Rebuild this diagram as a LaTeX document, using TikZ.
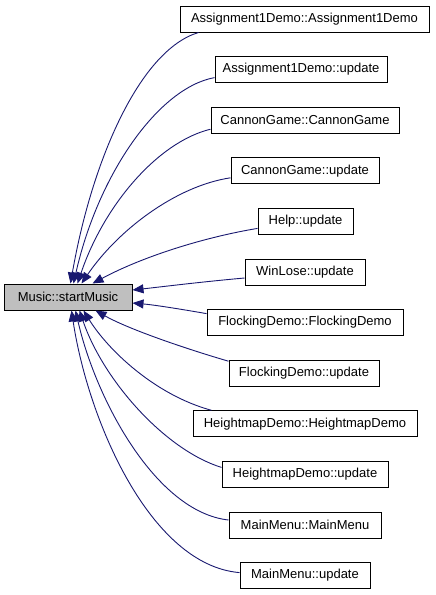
\documentclass[tikz,border=0pt]{standalone}
\usepackage{fontspec}
\setmainfont{Liberation Sans}
\usetikzlibrary{arrows.meta,calc}
\definecolor{edgeblue}{RGB}{25,25,112}
\definecolor{mainfill}{RGB}{191,191,191}
\begin{document}
\begin{tikzpicture}[x=1pt,y=-1pt,
  box/.style={draw=black, line width=1pt, minimum height=26pt, inner sep=0pt, fill=white, font=\fontsize{13}{15}\selectfont},
  edge/.style={draw=edgeblue, line width=0.9pt, -{Triangle[length=11pt,width=9pt]}}]
\useasboundingbox (0,0) rectangle (436,595);
\node[box, fill=mainfill, minimum width=128pt] (m) at (68,297) {Music::startMusic};
\node[box, minimum width=249pt] (n1) at (304.5,19) {Assignment1Demo::Assignment1Demo};
\node[box, minimum width=172pt] (n2) at (301,69.6) {Assignment1Demo::update};
\node[box, minimum width=188pt] (n3) at (305,120.2) {CannonGame::CannonGame};
\node[box, minimum width=148pt] (n4) at (305,170.8) {CannonGame::update};
\node[box, minimum width=95pt] (n5) at (305.5,221.4) {Help::update};
\node[box, minimum width=120pt] (n6) at (305,272) {WinLose::update};
\node[box, minimum width=196pt] (n7) at (305,322.6) {FlockingDemo::FlockingDemo};
\node[box, minimum width=150pt] (n8) at (304,373.2) {FlockingDemo::update};
\node[box, minimum width=224pt] (n9) at (305,423.8) {HeightmapDemo::HeightmapDemo};
\node[box, minimum width=166pt] (n10) at (305,474.4) {HeightmapDemo::update};
\node[box, minimum width=152pt] (n11) at (305,525) {MainMenu::MainMenu};
\node[box, minimum width=130pt] (n12) at (305,575.6) {MainMenu::update};
\draw[edge] ($(n1.south west)+(19,0)$) .. controls (140,50) and (92,160) .. ($(m.north west)+(67,0)$);
\draw[edge] ($(n2.west)+(0,8)$) .. controls (158,88) and (98,175) .. ($(m.north west)+(70,0)$);
\draw[edge] ($(n3.west)+(0,9)$) .. controls (158,142) and (104,205) .. ($(m.north west)+(74,0)$);
\draw[edge] ($(n4.west)+(0,7)$) .. controls (176,186) and (118,230) .. ($(m.north west)+(78,0)$);
\draw[edge] ($(n5.west)+(0,7)$) .. controls (200,238) and (140,258) .. ($(m.north west)+(89,0)$);
\draw[edge] ($(n6.west)+(0,6)$) .. controls (200,282) and (160,287) .. ($(m.east)+(0,-7)$);
\draw[edge] ($(n7.west)+(0,-9)$) .. controls (180,309) and (155,305) .. ($(m.east)+(0,6)$);
\draw[edge] ($(n8.west)+(0,-12)$) .. controls (190,350) and (130,330) .. ($(m.south west)+(92,0)$);
\draw[edge] ($(n9.north west)+(19,0)$) .. controls (155,395) and (108,350) .. ($(m.south west)+(80,0)$);
\draw[edge] ($(n10.west)+(0,-7)$) .. controls (165,450) and (103,380) .. ($(m.south west)+(76,0)$);
\draw[edge] ($(n11.west)+(0,-5)$) .. controls (156,512) and (96,400) .. ($(m.south west)+(72,0)$);
\draw[edge] ($(n12.west)+(0,-3)$) .. controls (150,565) and (88,420) .. ($(m.south west)+(68,0)$);
\end{tikzpicture}
\end{document}
